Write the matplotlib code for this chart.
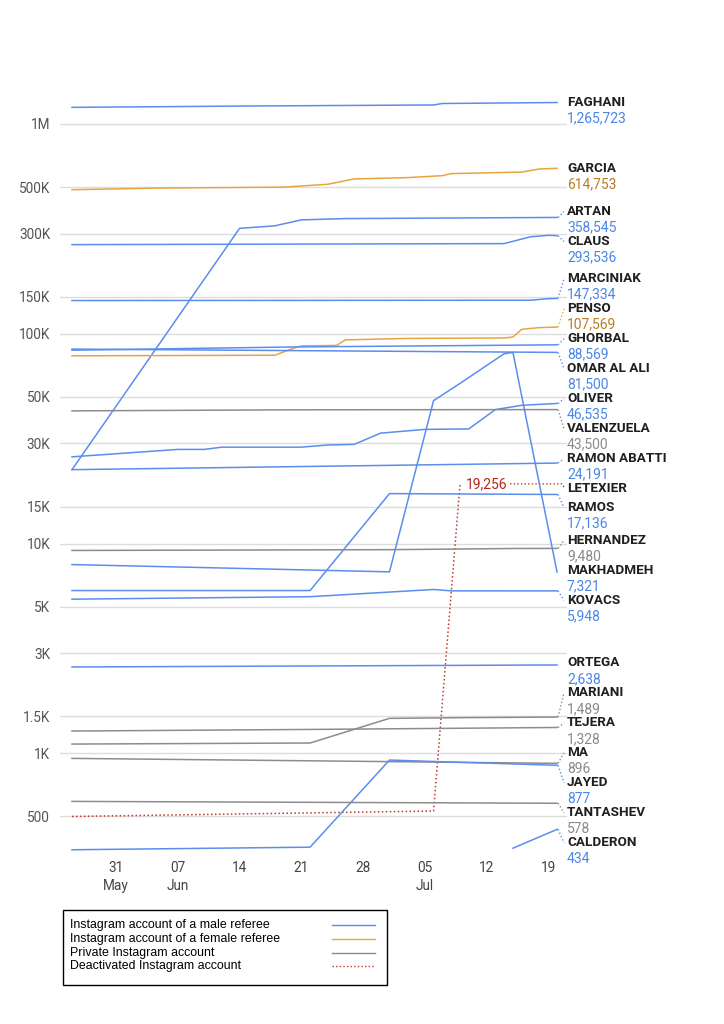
import datetime as dt

import matplotlib
matplotlib.use("Agg")
import matplotlib.pyplot as plt
import matplotlib.dates as mdates
from matplotlib.lines import Line2D
from matplotlib.patches import Rectangle
from matplotlib.ticker import NullLocator
import numpy as np

YEAR = 2018


def d(s):
    m, day = s.split("-")
    return dt.datetime(YEAR, int(m), int(day))


# follower counts (keypoints, dates are MM-DD of 2018)
faghani_dates = ["05-26", "06-15", "07-06", "07-07", "07-20"]
faghani_values = [1200000, 1218000, 1232000, 1252000, 1265723]

garcia_dates = ["05-26", "06-05", "06-19", "06-24", "06-27", "07-03", "07-07", "07-08", "07-16", "07-18", "07-20"]
garcia_values = [486000, 495000, 500000, 516000, 547000, 555000, 567000, 580000, 590000, 610000, 614753]

artan_dates = ["05-26", "06-14", "06-18", "06-21", "06-26", "07-20"]
artan_values = [22500, 318000, 327000, 349000, 354000, 358545]

claus_dates = ["05-26", "07-14", "07-17", "07-19", "07-20"]
claus_values = [266000, 269000, 290000, 294500, 293536]

marciniak_dates = ["05-26", "07-17", "07-19", "07-20"]
marciniak_values = [144000, 144500, 147000, 147334]

penso_dates = ["05-26", "06-18", "06-20", "06-21", "06-25", "06-26", "07-03", "07-14", "07-15", "07-16", "07-18", "07-20"]
penso_values = [78500, 79000, 85000, 87500, 88000, 93500, 95000, 95500, 96500, 105000, 107000, 107569]

ghorbal_dates = ["05-26", "06-20", "07-20"]
ghorbal_values = [83500, 86500, 88569]

omar_dates = ["05-26", "07-20"]
omar_values = [84500, 81500]

oliver_dates = ["05-26", "06-07", "06-10", "06-12", "06-21", "06-24", "06-27", "06-30", "07-05", "07-10", "07-13", "07-16", "07-20"]
oliver_values = [25900, 28100, 28100, 28800, 28800, 29500, 29700, 33600, 35000, 35200, 43500, 45600, 46535]

valenzuela_dates = ["05-26", "06-20", "07-20"]
valenzuela_values = [42900, 43400, 43500]

ramon_dates = ["05-26", "07-20"]
ramon_values = [22500, 24191]

letexier_dates = ["05-26", "07-06", "07-09"]
letexier_values = [500, 531, 19256]

ramos_dates = ["05-26", "06-22", "07-01", "07-20"]
ramos_values = [5970, 5970, 17300, 17136]

hernandez_dates = ["05-26", "07-01", "07-15", "07-20"]
hernandez_values = [9270, 9350, 9470, 9480]

makhadmeh_dates = ["05-26", "07-01", "07-06", "07-09", "07-14", "07-15", "07-20"]
makhadmeh_values = [7940, 7330, 48000, 58000, 80300, 81500, 7321]

kovacs_dates = ["05-26", "06-22", "07-06", "07-08", "07-20"]
kovacs_values = [5430, 5580, 6040, 5950, 5948]

ortega_dates = ["05-26", "07-20"]
ortega_values = [2580, 2638]

mariani_dates = ["05-26", "06-22", "07-01", "07-10", "07-20"]
mariani_values = [1107, 1120, 1468, 1480, 1489]

tejera_dates = ["05-26", "06-22", "07-20"]
tejera_values = [1277, 1300, 1328]

ma_dates = ["05-26", "07-20"]
ma_values = [946, 896]

jayed_dates = ["05-26", "06-22", "07-01", "07-08", "07-20"]
jayed_values = [347, 357, 929, 909, 877]

tantashev_dates = ["05-26", "07-20"]
tantashev_values = [590, 578]

calderon_dates = ["07-15", "07-20"]
calderon_values = [353, 434]

referees = [
    ("FAGHANI", "male", faghani_dates, faghani_values),
    ("GARCIA", "female", garcia_dates, garcia_values),
    ("ARTAN", "male", artan_dates, artan_values),
    ("CLAUS", "male", claus_dates, claus_values),
    ("MARCINIAK", "male", marciniak_dates, marciniak_values),
    ("PENSO", "female", penso_dates, penso_values),
    ("GHORBAL", "male", ghorbal_dates, ghorbal_values),
    ("OMAR AL ALI", "male", omar_dates, omar_values),
    ("OLIVER", "male", oliver_dates, oliver_values),
    ("VALENZUELA", "private", valenzuela_dates, valenzuela_values),
    ("RAMON ABATTI", "male", ramon_dates, ramon_values),
    ("LETEXIER", "deactivated", letexier_dates, letexier_values),
    ("RAMOS", "male", ramos_dates, ramos_values),
    ("HERNANDEZ", "private", hernandez_dates, hernandez_values),
    ("MAKHADMEH", "male", makhadmeh_dates, makhadmeh_values),
    ("KOVACS", "male", kovacs_dates, kovacs_values),
    ("ORTEGA", "male", ortega_dates, ortega_values),
    ("MARIANI", "private", mariani_dates, mariani_values),
    ("TEJERA", "private", tejera_dates, tejera_values),
    ("MA", "private", ma_dates, ma_values),
    ("JAYED", "male", jayed_dates, jayed_values),
    ("TANTASHEV", "private", tantashev_dates, tantashev_values),
    ("CALDERON", "male", calderon_dates, calderon_values),
]

y_ticks = [500, 1000, 1500, 3000, 5000, 10000, 15000, 30000, 50000, 100000, 150000, 300000, 500000, 1000000]
y_tick_labels = ["500", "1K", "1.5K", "3K", "5K", "10K", "15K", "30K", "50K", "100K", "150K", "300K", "500K", "1M"]

x_ticks = ["05-31", "06-07", "06-14", "06-21", "06-28", "07-05", "07-12", "07-19"]
x_tick_labels = ["31\nMay", "07\nJun", "14", "21", "28", "05\nJul", "12", "19"]

legend_kinds = ["male", "female", "private", "deactivated"]
legend_labels = [
    "Instagram account of a male referee",
    "Instagram account of a female referee",
    "Private Instagram account",
    "Deactivated Instagram account",
]

line_colors = {"male": "#5b8def", "female": "#eaa43e", "private": "#8c8c8c", "deactivated": "#c0392b"}
text_colors = {"male": "#4a86e8", "female": "#b97d24", "private": "#8a8a8a", "deactivated": "#b3261e"}
DOTTED = (0, (1, 1.6))

W, H = 724, 1024
plt.rcParams["font.family"] = ["Roboto", "DejaVu Sans"]

fig = plt.figure(figsize=(W / 100, H / 100), dpi=100)
ax_left, ax_right, ax_top, ax_bottom = 60, 567, 90, 858
ax = fig.add_axes([ax_left / W, 1 - ax_bottom / H, (ax_right - ax_left) / W, (ax_bottom - ax_top) / H])

ax.set_yscale("log")
ax.set_ylim(317, 1.452e6)
ax.set_xlim(d("05-26") - dt.timedelta(days=1.36), d("07-20") + dt.timedelta(days=1.13))

for name, kind, dates, values in referees:
    ls = DOTTED if kind == "deactivated" else "-"
    ax.plot([d(s) for s in dates], values, color=line_colors[kind], lw=1.1, ls=ls,
            solid_joinstyle="round", zorder=3)

ax.set_yticks(y_ticks)
ax.set_yticklabels(y_tick_labels)
ax.yaxis.set_minor_locator(NullLocator())
ax.set_xticks([d(s) for s in x_ticks])
ax.set_xticklabels(x_tick_labels, linespacing=1.35)
ax.tick_params(axis="y", length=0, pad=7, labelsize=9.8, labelcolor="#555555")
ax.tick_params(axis="x", length=0, pad=2, labelsize=9.8, labelcolor="#444444")
ax.yaxis.grid(True, color="#dddddd", lw=1)
ax.set_axisbelow(True)
for sp in ax.spines.values():
    sp.set_visible(False)


def to_px(x, y):
    dx, dy = ax.transData.transform((mdates.date2num(x), y))
    return dx, H - dy


def to_data(xp, yp):
    return ax.transData.inverted().transform((xp, H - yp))


# label placement: push overlapping labels apart, groups centred on their lines
desired = []
heights = []
for name, kind, dates, values in referees:
    desired.append(to_px(d(dates[-1]), values[-1])[1])
    heights.append(19 if kind == "deactivated" else 30)

order = sorted(range(len(referees)), key=lambda i: desired[i])
groups = [[i] for i in order]


def group_top(g):
    offs = np.cumsum([0] + [heights[i] for i in g[:-1]])
    return np.mean([desired[i] - o for i, o in zip(g, offs)]), offs


merged = True
while merged:
    merged = False
    for k in range(len(groups) - 1):
        top_a, offs_a = group_top(groups[k])
        top_b, _ = group_top(groups[k + 1])
        if top_a + offs_a[-1] + heights[groups[k][-1]] > top_b:
            groups[k] = groups[k] + groups[k + 1]
            del groups[k + 1]
            merged = True
            break

label_y = {}
for g in groups:
    top, offs = group_top(g)
    for i, o in zip(g, offs):
        label_y[i] = top + o

label_x = 567
fig.canvas.draw()
renderer = fig.canvas.get_renderer()

for i, (name, kind, dates, values) in enumerate(referees):
    ly = label_y[i]
    end_x, end_y = to_px(d(dates[-1]), values[-1])
    tx, ty = to_data(label_x, ly)
    ax.text(tx, ty, name, ha="left", va="center", fontsize=9.7, fontweight="bold",
            color="#1f1f1f", clip_on=False)
    col = line_colors[kind]
    if kind == "deactivated":
        t = ax.annotate(f"{values[-1]:,}", (d(dates[-1]), values[-1]), xytext=(4, 0),
                        textcoords="offset points", ha="left", va="center",
                        fontsize=10, color=text_colors[kind])
        bb = t.get_window_extent(renderer)
        x0 = bb.x1 + 3
        pts = [to_data(x0, end_y), to_data(label_x - 5, end_y), to_data(label_x - 2, ly)]
        ax.plot([p[0] for p in pts], [p[1] for p in pts], color=col, lw=1,
                ls=DOTTED, clip_on=False)
        continue
    vx, vy = to_data(label_x, ly + 16)
    ax.text(vx, vy, f"{values[-1]:,}", ha="left", va="center", fontsize=10,
            color=text_colors[kind], clip_on=False)
    if abs(ly - end_y) > 3:
        p0 = to_data(end_x + 1, end_y)
        p1 = to_data(label_x - 3, ly)
        ax.plot([p0[0], p1[0]], [p0[1], p1[1]], color=col, lw=1, ls=DOTTED,
                clip_on=False)

# legend box, drawn by hand so text stays left and samples stay right
fig.patches.append(Rectangle((63 / W, 1 - 985 / H), 324 / W, 75 / H, transform=fig.transFigure,
                             facecolor="white", edgecolor="black", lw=1.0))
for k, (kind, text) in enumerate(zip(legend_kinds, legend_labels)):
    yy = 1 - (925 + k * 13.8) / H
    fig.text(70 / W, yy, text, ha="left", va="center", fontsize=8.9,
             family="Liberation Sans", color="black")
    fig.add_artist(Line2D([332 / W, 375 / W], [yy, yy], transform=fig.transFigure,
                          color=line_colors[kind], lw=1,
                          ls=DOTTED if kind == "deactivated" else "-"))

fig.savefig("out.png", dpi=100, facecolor="white")
